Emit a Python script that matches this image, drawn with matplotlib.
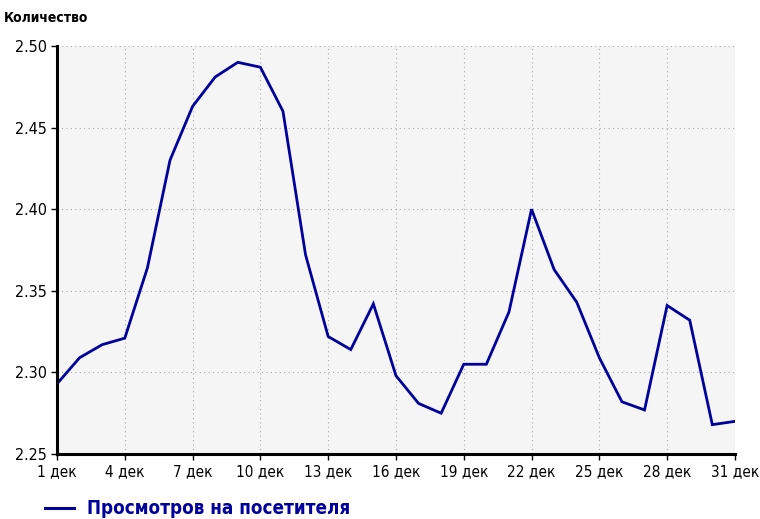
import numpy as np
from matplotlib import pyplot as plt

plt.rcParams['font.family'] = ['DejaVu Sans']
plt.rcParams['font.stretch'] = 'condensed'

# data
days = np.arange(1, 32)
views = [2.293, 2.309, 2.317, 2.321, 2.364, 2.430, 2.463, 2.481, 2.490, 2.487,
         2.460, 2.372, 2.322, 2.314, 2.342, 2.298, 2.281, 2.275, 2.305, 2.305,
         2.337, 2.400, 2.363, 2.343, 2.309, 2.282, 2.277, 2.341, 2.332, 2.268,
         2.270]
tick_days = [1, 4, 7, 10, 13, 16, 19, 22, 25, 28, 31]
tick_labels = [f'{d} дек' for d in tick_days]
y_ticks = [2.25, 2.30, 2.35, 2.40, 2.45, 2.50]
series_name = 'Просмотров на посетителя'

line_color = '#00009c'

fig = plt.figure(figsize=(7.6, 5.19), dpi=100)
ax = fig.add_axes([0.075, 0.1252, 0.892, 0.7862])
ax.set_facecolor('#f5f5f5')

ax.plot(days, views, color=line_color, linewidth=2, solid_joinstyle='miter')

ax.set_xlim(1, 31)
ax.set_ylim(2.25, 2.50)
ax.set_xticks(tick_days)
ax.set_xticklabels(tick_labels)
ax.set_yticks(y_ticks)
ax.set_yticklabels([f'{v:.2f}' for v in y_ticks])
ax.tick_params(axis='x', labelsize=11)
ax.tick_params(axis='y', labelsize=11.5)
ax.tick_params(direction='out', length=4, width=1, color='black')

ax.grid(True, color='#aaaaaa', linestyle=(0, (1, 3)), linewidth=0.8)
ax.set_axisbelow(True)
for side in ['top', 'right']:
    ax.spines[side].set_visible(False)
for side in ['left', 'bottom']:
    ax.spines[side].set_linewidth(2.2)

fig.text(0.005, 0.965, 'Количество', fontsize=10, fontweight='bold', va='center', ha='left')

# legend below the plot
fig.add_artist(plt.Line2D([0.059, 0.098], [0.021, 0.021], color=line_color, linewidth=2.2))
fig.text(0.115, 0.021, series_name, fontsize=13.5, fontweight='bold', color=line_color,
         va='center', ha='left')

fig.savefig('out.png', dpi=100)
